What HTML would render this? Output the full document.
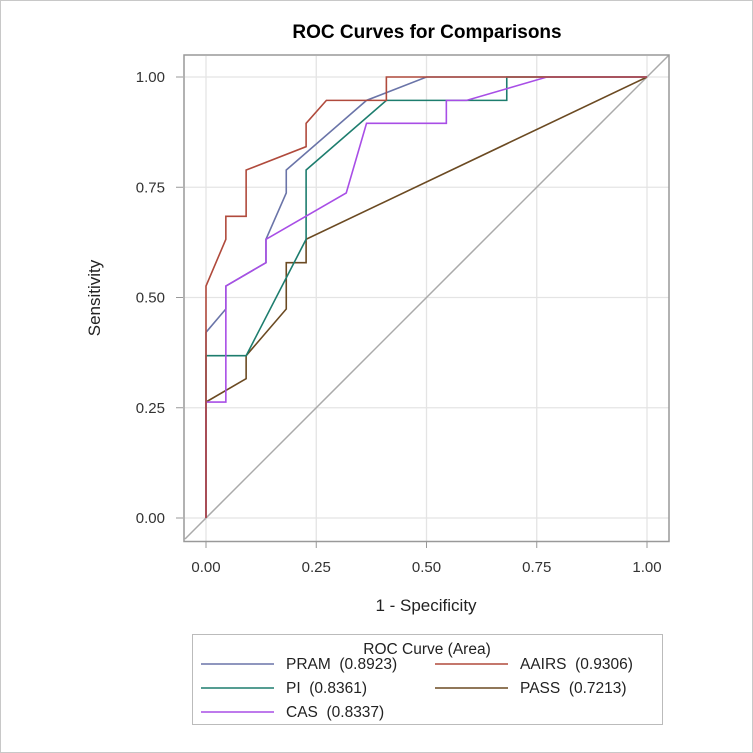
<!DOCTYPE html>
<html><head><meta charset="utf-8"><style>
body{margin:0;background:#fff}
svg{display:block;font-family:"Liberation Sans",Arial,sans-serif}
</style></head><body>
<svg id="c" width="753" height="753" viewBox="0 0 753 753">
<rect x="0.5" y="0.5" width="752" height="752" fill="#fff" stroke="#c8c8c8"/>
<text x="427" y="38" text-anchor="middle" font-size="19" font-weight="bold" fill="#000">ROC Curves for Comparisons</text>
<g id="grid"></g>
<g id="series"></g>
<rect x="184" y="55" width="485" height="486.5" fill="none" stroke="#999" stroke-width="1.5"/>
<g id="ticks"></g>
<text x="426" y="611" text-anchor="middle" font-size="17" fill="#222">1 - Specificity</text>
<text transform="translate(100,298) rotate(-90)" text-anchor="middle" font-size="17" fill="#222">Sensitivity</text>
<g>
<rect x="192.5" y="634.5" width="470" height="90" fill="#fff" stroke="#bbb"/>
<text x="427" y="654" text-anchor="middle" font-size="15.5" fill="#222">ROC Curve (Area)</text>
<g id="legend"></g>
</g>
</svg>
<script>
const xTicks=[0,0.25,0.5,0.75,1];
const yTicks=[0,0.25,0.5,0.75,1];
const tickLabels=["0.00","0.25","0.50","0.75","1.00"];
const seriesNames=["PRAM","AAIRS","PI","PASS","CAS"];
const seriesAreas=["0.8923","0.9306","0.8361","0.7213","0.8337"];
const seriesColors=["#6a74a8","#b04a3c","#1d7d6e","#6b4a22","#a84ee6"];
const pramX=[0,0,0.045,0.045,0.136,0.136,0.182,0.182,0.364,0.5,1];
const pramY=[0,0.421,0.474,0.526,0.579,0.632,0.737,0.789,0.947,1,1];
const aairsX=[0,0,0.045,0.045,0.091,0.091,0.227,0.227,0.273,0.409,0.409,1];
const aairsY=[0,0.526,0.632,0.684,0.684,0.789,0.842,0.895,0.947,0.947,1,1];
const piX=[0,0,0,0.091,0.227,0.227,0.409,0.682,0.682,1];
const piY=[0,0.263,0.368,0.368,0.632,0.789,0.947,0.947,1,1];
const passX=[0,0,0.091,0.091,0.182,0.182,0.227,0.227,1];
const passY=[0,0.263,0.316,0.368,0.474,0.579,0.579,0.632,1];
const casX=[0,0,0.045,0.045,0.136,0.136,0.318,0.364,0.545,0.545,0.591,0.773,1];
const casY=[0,0.263,0.263,0.526,0.579,0.632,0.737,0.895,0.895,0.947,0.947,1,1];
const NS="http://www.w3.org/2000/svg";
const sx=v=>206+v*441, sy=v=>518-v*441;
function mk(t,a,p){const e=document.createElementNS(NS,t);for(const k in a)e.setAttribute(k,a[k]);p.appendChild(e);return e;}
const grid=document.getElementById('grid'),ticks=document.getElementById('ticks');
xTicks.forEach((v,i)=>{
 const l=mk('line',{x1:sx(v),x2:sx(v),y1:56,y2:541,stroke:'#e4e4e4','stroke-width':1.3},grid);
 
 
 const t=mk('line',{x1:sx(v),x2:sx(v),y1:542,y2:548,stroke:'#999'},ticks);
 
 
 const tx=mk('text',{x:sx(v),y:572,'text-anchor':'middle','font-size':15,fill:'#333'},ticks);tx.textContent=tickLabels[i];
 
 
});
yTicks.forEach((v,i)=>{
 const l=mk('line',{x1:185,x2:669,y1:sy(v),y2:sy(v),stroke:'#e4e4e4','stroke-width':1.3},grid);
 
 
 const t=mk('line',{x1:176,x2:183,y1:sy(v),y2:sy(v),stroke:'#999'},ticks);
 
 
 const tx=mk('text',{x:165,y:sy(v)+5,'text-anchor':'end','font-size':15,fill:'#333'},ticks);tx.textContent=tickLabels[i];
 
 
});
const ser=document.getElementById('series');
const d=mk('line',{x1:185,y1:sy(-21/441),x2:669,y2:sy(463/441),stroke:'#aaa','stroke-width':1.5},ser);


const XS=[pramX,aairsX,piX,passX,casX],YS=[pramY,aairsY,piY,passY,casY];
const order=[3,2,0,4,1];
order.forEach(i=>{
 const pts=XS[i].map((x,j)=>sx(x)+','+sy(YS[i][j])).join(' ');
 const p=mk('polyline',{points:pts,fill:'none',stroke:seriesColors[i],'stroke-width':1.6},ser);
 
 
});
const lg=document.getElementById('legend');
const pos=[[201,669],[435,669],[201,693],[435,693],[201,717]];
seriesNames.forEach((n,i)=>{
 const [x,y]=pos[i];
 const l=mk('line',{x1:x,x2:x+73,y1:y-5,y2:y-5,stroke:seriesColors[i],'stroke-width':1.6},lg);
 
 
 const t=mk('text',{x:x+85,y:y,'font-size':15.5,fill:'#222'},lg);
 t.textContent=n+'\u00a0\u00a0('+seriesAreas[i]+')';
 
 
});
</script>
</body></html>
